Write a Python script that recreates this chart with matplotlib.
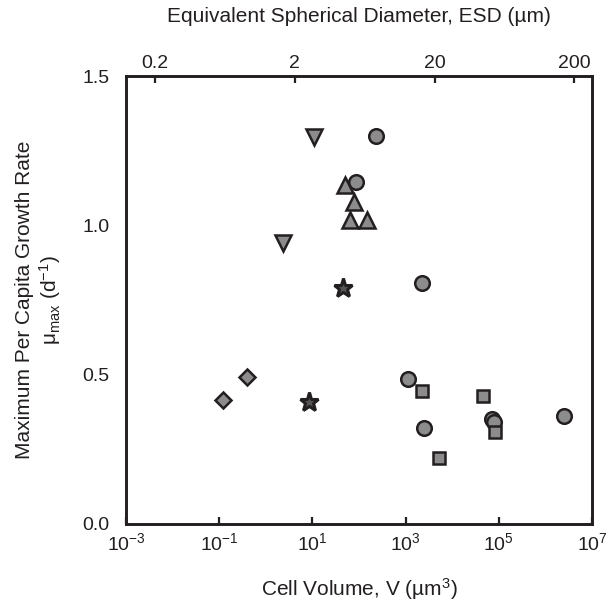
import numpy as np
import matplotlib
matplotlib.use('Agg')
import matplotlib.pyplot as plt

plt.rcParams['font.family'] = ['Liberation Sans', 'DejaVu Sans']
plt.rcParams['mathtext.default'] = 'regular'

# data: cell volume (um^3) and mu_max (d^-1)
circle_v = [230, 88, 2200, 1100, 70000, 78000, 2500, 2500000]
circle_mu = [1.30, 1.146, 0.807, 0.485, 0.352, 0.34, 0.32, 0.362]

tri_up_v = [49, 80, 63, 150]
tri_up_mu = [1.135, 1.079, 1.018, 1.018]

tri_down_v = [11, 2.3]
tri_down_mu = [1.297, 0.94]

square_v = [2200, 46000, 83000, 5200]
square_mu = [0.445, 0.427, 0.309, 0.222]

diamond_v = [0.40, 0.12]
diamond_mu = [0.493, 0.415]

star_v = [45, 8.4]
star_mu = [0.789, 0.41]

esd_ticks = [0.2, 2, 20, 200]

face = '#8c8c8c'
edge = '#231f20'
txt = '#231f20'

fig = plt.figure(figsize=(6.10, 6.04), dpi=100)
ax = fig.add_axes([0.2066, 0.1325, 0.7639, 0.7415])

kw = dict(linestyle='none', markerfacecolor=face, markeredgecolor=edge,
          markeredgewidth=1.8, zorder=3)
ax.plot(circle_v, circle_mu, marker='o', markersize=10.5, **kw)
ax.plot(tri_up_v, tri_up_mu, marker='^', markersize=11.5, **kw)
ax.plot(tri_down_v, tri_down_mu, marker='v', markersize=11.5, **kw)
ax.plot(square_v, square_mu, marker='s', markersize=8.5, **kw)
ax.plot(diamond_v, diamond_mu, marker='D', markersize=8.5, **kw)
ax.plot(star_v, star_mu, marker='*', markersize=14, linestyle='none',
        markerfacecolor='#555555', markeredgecolor=edge, markeredgewidth=2.2, zorder=3)

ax.set_xscale('log')
ax.set_xlim(1e-3, 1e7)
ax.set_ylim(0, 1.5)
ax.set_xticks([1e-3, 1e-1, 1e1, 1e3, 1e5, 1e7])
ax.xaxis.set_minor_locator(matplotlib.ticker.NullLocator())
ax.set_yticks([0.0, 0.5, 1.0, 1.5])
ax.set_yticklabels(['0.0', '0.5', '1.0', '1.5'])

for s in ax.spines.values():
    s.set_linewidth(1.9)
    s.set_color(edge)

ax.tick_params(axis='x', direction='in', length=5, width=1.6, labelsize=14,
               pad=6, colors=edge, labelcolor=txt)
ax.tick_params(axis='y', length=0, labelsize=14, pad=12, labelcolor=txt)

ax.set_xlabel('Cell Volume, V (µm$^3$)', fontsize=15, labelpad=16, color=txt)
ax.set_ylabel('Maximum Per Capita Growth Rate\n$\\mu_{max}$ (d$^{-1}$)',
              fontsize=15, labelpad=14, color=txt, linespacing=1.15)

# top axis: equivalent spherical diameter
top = ax.twiny()
top.set_xscale('log')
top.set_xlim(ax.get_xlim())
esd_pos = [np.pi / 6 * d ** 3 for d in esd_ticks]
top.set_xticks(esd_pos)
top.set_xticklabels([str(d) for d in esd_ticks])
top.xaxis.set_minor_locator(matplotlib.ticker.NullLocator())
top.tick_params(axis='x', direction='in', length=5, width=1.6, labelsize=14,
                pad=3, colors=edge, labelcolor=txt)
for s in top.spines.values():
    s.set_linewidth(1.9)
    s.set_color(edge)
top.set_xlabel('Equivalent Spherical Diameter, ESD (µm)', fontsize=15,
               labelpad=24, color=txt)

fig.savefig('out.png', dpi=100)
